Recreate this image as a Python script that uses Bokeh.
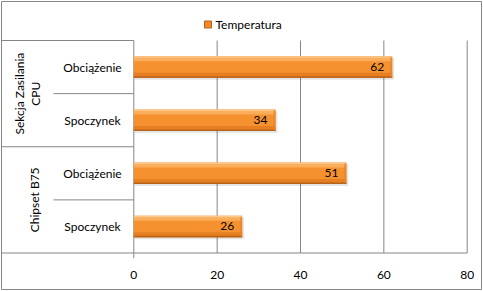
import math
from bokeh.plotting import figure
from bokeh.models import ColumnDataSource, Range1d
from bokeh.core.properties import value
from bokeh.embed import file_html
from bokeh.resources import INLINE

# ---- data ----
series_name = "Temperatura"
groups = ["Sekcja Zasilania\nCPU", "Chipset B75"]
states = ["Obciążenie", "Spoczynek"]
values = [62, 34, 51, 26]          # CPU load, CPU idle, B75 load, B75 idle
ticks = [0, 20, 40, 60, 80]
tick_labels = ["0", "20", "40", "60", "80"]

# ---- layout (pixel geometry of the Excel chart) ----
W, H = 483, 291
FL, FR, FT, FB = 1, 2, 1, 2
FW, FH = W - FL - FR, H - FT - FB
X0_PX, X80_PX = 133.3, 466.7
PXX = (X80_PX - X0_PX) / (ticks[-1] - ticks[0])
TOP_PX, BOT_PX = 40.0, 252.5
n_cat = len(groups) * len(states)
PXY = (BOT_PX - TOP_PX) / n_cat

def dx(px):
    return px / PXX

def dy(px):
    return px / PXY

x_start = ticks[0] - dx(X0_PX - FL)
x_end = x_start + dx(FW)
y_end = n_cat + dy(TOP_PX - FT)
y_start = y_end - dy(FH)

def px2x(px):
    return x_start + dx(px - FL)

def px2y(py):
    return y_end - dy(py - FT)

p = figure(width=W, height=H, output_backend="svg", toolbar_location=None,
           x_range=Range1d(x_start, x_end), y_range=Range1d(y_start, y_end),
           min_border_left=FL, min_border_right=FR, min_border_top=FT, min_border_bottom=FB,
           background_fill_color="white", border_fill_color="white")
p.axis.visible = False
p.grid.visible = False
p.outline_line_color = "#868686"
p.outline_line_width = 1

LINE = "#868686"
FONT = value("Lato")
FS = "12px"

# category positions (top to bottom)
cat_labels = []
cat_y = []
for gi, g in enumerate(groups):
    for si, s in enumerate(states):
        k = gi * len(states) + si
        cat_labels.append(s)
        cat_y.append(n_cat - k - 0.5)

# ---- gridlines ----
p.segment(x0=ticks[1:], y0=[0] * (len(ticks) - 1), x1=ticks[1:], y1=[n_cat] * (len(ticks) - 1),
          line_color=LINE, line_width=1)
# value axis line at 0 (category axis) with small overhang below
p.segment(x0=[ticks[0]], y0=[-dy(5)], x1=[ticks[0]], y1=[n_cat], line_color=LINE, line_width=1)
# bottom axis line
p.segment(x0=[x_start], y0=[0], x1=[ticks[-1]], y1=[0], line_color=LINE, line_width=1)
# group separators in label area
group_edges = [n_cat - gi * len(states) for gi in range(len(groups))]
p.segment(x0=[x_start] * len(group_edges), y0=group_edges, x1=[ticks[0]] * len(group_edges),
          y1=group_edges, line_color=LINE, line_width=1)
# category separators inside groups
sep_y = [n_cat - gi * len(states) - si for gi in range(len(groups)) for si in range(1, len(states))]
p.segment(x0=[px2x(53)] * len(sep_y), y0=sep_y, x1=[ticks[0]] * len(sep_y), y1=sep_y,
          line_color=LINE, line_width=1)

# ---- bars ----
src = ColumnDataSource(dict(y=cat_y, v=values, lab=[str(v) for v in values]))
BH = dy(21.5)
# shadow
p.hbar(y="y", left=dx(1), right="v", height=BH, source=src,
       fill_color="black", fill_alpha=0.10, line_color=None)
sh = ColumnDataSource(dict(y=[c - dy(2) for c in cat_y], v=[v + dx(2) for v in values]))
p.hbar(y="y", left=dx(1), right="v", height=BH, source=sh,
       fill_color="black", fill_alpha=0.10, line_color=None)
# body
p.hbar(y="y", left=0, right="v", height=BH, source=src,
       fill_color="#F5912E", line_color=None)
# lower darker band
lo = ColumnDataSource(dict(y=[c - BH / 2 + dy(2.5) for c in cat_y], v=values))
p.hbar(y="y", left=0, right="v", height=dy(5), source=lo, fill_color="#E57F22", line_color=None)
lo2 = ColumnDataSource(dict(y=[c - BH / 2 + dy(0.75) for c in cat_y], v=values))
p.hbar(y="y", left=0, right="v", height=dy(1.5), source=lo2, fill_color="#B9621C", line_color=None)
# upper highlight band
hi = ColumnDataSource(dict(y=[c + BH / 2 - dy(3) for c in cat_y], v=values))
p.hbar(y="y", left=0, right="v", height=dy(4), source=hi, fill_color="#FAAE5C", line_color=None)
hi2 = ColumnDataSource(dict(y=[c + BH / 2 - dy(0.75) for c in cat_y], v=values))
p.hbar(y="y", left=0, right="v", height=dy(1.5), source=hi2, fill_color="#FCC98C", line_color=None)
# right end bevel
re = ColumnDataSource(dict(y=cat_y, l=[v - dx(2) for v in values], v=values))
p.hbar(y="y", left="l", right="v", height=BH - dy(2), source=re, fill_color="#E8842A",
       fill_alpha=0.8, line_color=None)

# value labels
lab = ColumnDataSource(dict(x=[v - dx(8) for v in values], y=cat_y, t=[str(v) for v in values]))
p.text(x="x", y="y", text="t", source=lab, text_font=FONT, text_font_size=FS,
       text_align="right", text_baseline="middle", text_color="black")

# ---- category labels ----
p.text(x=[px2x(92)] * n_cat, y=cat_y, text=cat_labels, text_font=FONT, text_font_size=FS,
       text_align="center", text_baseline="middle", text_color="black")
grp_y = [n_cat - gi * len(states) - len(states) / 2 for gi in range(len(groups))]
grp_x = [px2x(27), px2x(33.5)]
p.text(x=grp_x, y=grp_y, text=groups, angle=math.pi / 2, text_font=FONT, text_font_size=FS,
       text_align="center", text_baseline="middle", text_color="black", text_line_height=1.1)

# ---- tick labels ----
p.text(x=ticks, y=[px2y(274)] * len(ticks), text=tick_labels, text_font=FONT, text_font_size=FS,
       text_align="center", text_baseline="middle", text_color="black")

# ---- legend ----
p.rect(x=[px2x(207.5)], y=[px2y(24)], width=dx(7), height=dy(7),
       fill_color="#F18A26", line_color="#B9621C", line_width=1)
p.text(x=[px2x(215)], y=[px2y(24)], text=[series_name], text_font=FONT, text_font_size=FS,
       text_align="left", text_baseline="middle", text_color="black")

open("out.html", "w").write(file_html(p, INLINE))
